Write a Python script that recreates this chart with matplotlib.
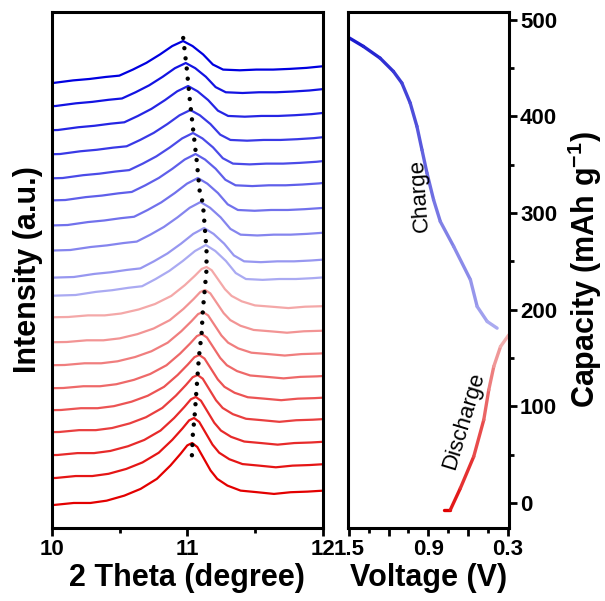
import numpy as np
import matplotlib
matplotlib.use("Agg")
import matplotlib.pyplot as plt
from matplotlib.collections import LineCollection
from matplotlib.colors import LinearSegmentedColormap

plt.rcParams['font.family'] = ['Liberation Sans', 'DejaVu Sans']
plt.rcParams['font.weight'] = 'bold'
plt.rcParams['axes.labelweight'] = 'bold'
plt.rcParams['mathtext.fontset'] = 'custom'
plt.rcParams['mathtext.rm'] = 'Liberation Sans:bold'
plt.rcParams['mathtext.default'] = 'rm'

# peak profiles read off the top (blue) and bottom (red) traces:
# offset from peak centre (degree), height above the left end of the trace
blue_dx = [-1.25, -0.96, -0.81, -0.69, -0.57, -0.47, -0.37, -0.27, -0.17, -0.08, 0.0,
           0.07, 0.148, 0.22, 0.295, 0.418, 0.54, 0.664, 0.787, 0.91, 1.03, 1.1]
blue_dy = [-1.0, 0.0, 2.6, 4.0, 6.0, 7.3, 13.3, 20.0, 28.3, 36.6, 41.6,
           36.6, 28.3, 18.3, 13.3, 12.6, 13.3, 13.3, 14.0, 15.0, 16.6, 17.0]
red_dx = [-1.2, -1.02, -0.873, -0.75, -0.63, -0.5, -0.38, -0.26, -0.16, -0.085, -0.036, 0.0,
          0.038, 0.087, 0.136, 0.185, 0.26, 0.357, 0.48, 0.603, 0.726, 0.85, 0.97, 1.1]
red_dy = [-0.5, 0.0, 2.0, 2.0, 4.3, 9.3, 16.0, 26.0, 39.3, 51.0, 59.3, 61.7,
          57.7, 46.0, 34.3, 26.0, 19.3, 14.3, 12.7, 11.0, 12.7, 13.3, 14.3, 14.8]

# 19 patterns, bottom (first discharge) to top (end of charge)
levels = [23, 50, 73, 96, 118, 140, 163, 186, 211, 233,
          251, 278, 303, 328, 350, 374, 398, 422, 445]
centers = [11.035, 11.049, 11.062, 11.075, 11.088, 11.106, 11.115, 11.131, 11.141, 11.136,
           11.123, 11.097, 11.077, 11.060, 11.041, 11.022, 11.005, 10.988, 10.968]
heights = [62, 60, 58, 57, 55, 54, 53, 52, 50,
           50, 49, 48, 47, 46, 45, 44, 44, 43, 42]
n_red = 9

# dotted guide through the peak maxima
guide_x = [10.969, 10.994, 11.018, 11.040, 11.068, 11.092, 11.114, 11.141, 11.141,
           11.114, 11.105, 11.085, 11.068, 11.055, 11.040, 11.031]
guide_y = [490, 461, 428, 401, 368, 335, 325, 278, 258, 218, 195, 171, 140, 115, 93, 66]

# voltage profile
charge_v = [1.508, 1.505, 1.391, 1.265, 1.164, 1.10, 1.037, 0.986, 0.948, 0.910,
            0.860, 0.809, 0.708, 0.581, 0.530, 0.454, 0.379]
charge_cap = [481.7, 481.7, 472.4, 460.3, 446.5, 434.5, 413.8, 389.6, 365.4, 341.3,
              313.7, 291.2, 265.4, 230.9, 203.2, 187.7, 180.8]
discharge_v = [0.784, 0.733, 0.657, 0.556, 0.480, 0.442, 0.404, 0.353, 0.290]
discharge_cap = [-7.2, -7.2, 15.2, 47.9, 85.9, 117.0, 141.2, 161.8, 173.9]

blue_map = LinearSegmentedColormap.from_list('blues', ['#aaaaf2', '#0000e0'])
red_map = LinearSegmentedColormap.from_list('reds', ['#e30000', '#f4a8a8'])
charge_map = LinearSegmentedColormap.from_list('chg', ['#1111cc', '#aaaaf0'])
discharge_map = LinearSegmentedColormap.from_list('dis', ['#e00000', '#f2b0b0'])


def style_axes(ax):
    for s in ax.spines.values():
        s.set_linewidth(2.2)
    ax.tick_params(which='major', direction='out', length=6, width=2, labelsize=16, pad=2)
    ax.tick_params(which='minor', direction='out', length=3.5, width=2)


def gradient_line(ax, x, y, cmap, lw):
    pts = np.column_stack([x, y])
    segs = np.stack([pts[:-1], pts[1:]], axis=1)
    lc = LineCollection(segs, colors=cmap(np.linspace(0, 1, len(segs))),
                        linewidths=lw, capstyle='round', joinstyle='round')
    ax.add_collection(lc)


fig = plt.figure(figsize=(6.05, 6.01), dpi=100)
ax1 = fig.add_axes([0.0855, 0.1215, 0.4485, 0.8585])
ax2 = fig.add_axes([0.5752, 0.1215, 0.2661, 0.8585])

# left: XRD patterns
for i in range(len(levels)):
    if i < n_red:
        dx, dy = red_dx, red_dy
        color = red_map(i / (n_red - 1))
    else:
        dx, dy = blue_dx, blue_dy
        color = blue_map((i - n_red) / (len(levels) - n_red - 1))
    scale = heights[i] / max(dy)
    ax1.plot(centers[i] + np.array(dx), levels[i] + scale * np.array(dy),
             color=color, lw=1.6)

ax1.plot(guide_x, guide_y, color='black', lw=3.2,
         linestyle=(0, (0.001, 2.3)), dash_capstyle='round')

ax1.set_xlim(10, 12)
ax1.set_ylim(0, 516)
ax1.set_xticks([10, 11, 12])
ax1.set_xticks([10.5, 11.5], minor=True)
ax1.set_yticks([])
style_axes(ax1)
ax1.set_xlabel('2 Theta (degree)', fontsize=22, labelpad=2)
ax1.set_ylabel('Intensity (a.u.)', fontsize=22, labelpad=6)

# right: charge / discharge curve
gradient_line(ax2, charge_v, charge_cap, charge_map, 2.4)
gradient_line(ax2, discharge_v, discharge_cap, discharge_map, 2.4)
ax2.text(0.961, 318, 'Charge', rotation=94, fontsize=16, fontweight='normal',
         ha='center', va='center', rotation_mode='anchor')
ax2.text(0.630, 85, 'Discharge', rotation=73, fontsize=16, fontweight='normal',
         ha='center', va='center', rotation_mode='anchor')

ax2.set_xlim(1.508, 0.289)
ax2.set_ylim(-26, 508)
ax2.set_xticks([1.5, 1.2, 0.9, 0.6, 0.3])
ax2.set_xticklabels(['1.5', '', '0.9', '', '0.3'])
ax2.set_xticks([1.35, 1.05, 0.75, 0.45], minor=True)
ax2.set_yticks([0, 100, 200, 300, 400, 500])
ax2.set_yticks([50, 150, 250, 350, 450], minor=True)
ax2.yaxis.tick_right()
ax2.yaxis.set_label_position('right')
style_axes(ax2)
ax2.set_xlabel('Voltage (V)', fontsize=22, labelpad=2)
ax2.set_ylabel('Capacity (mAh g$^{-1}$)', fontsize=22, labelpad=6)

fig.savefig('out.png', dpi=100)
